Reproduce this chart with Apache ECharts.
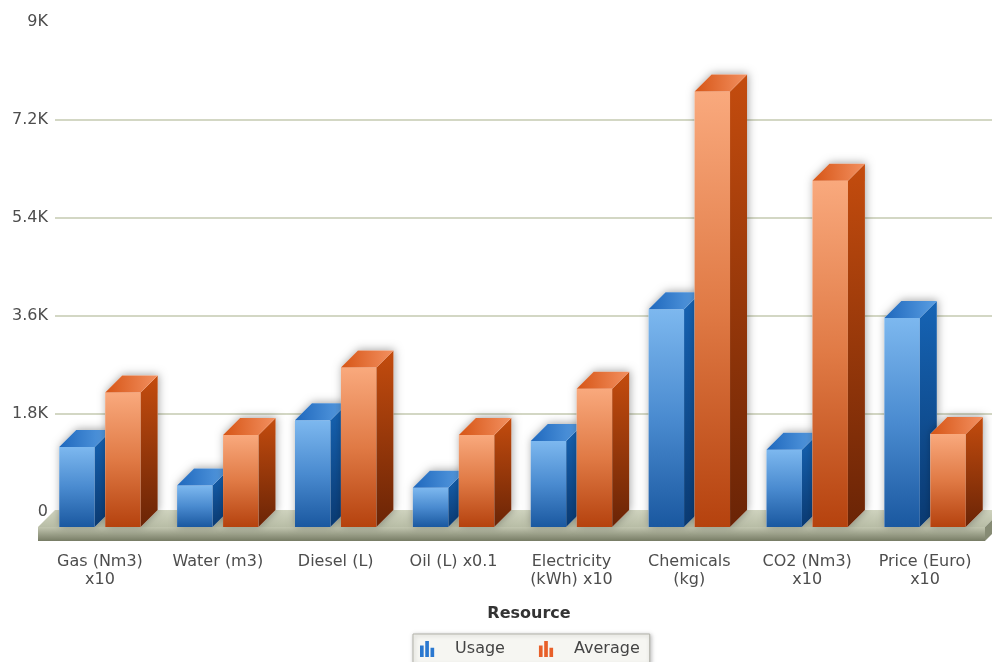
<!DOCTYPE html>
<html>
<head>
<meta charset="utf-8">
<script src="https://cdn.jsdelivr.net/npm/echarts@6/dist/echarts.min.js"></script>
<style>
html,body{margin:0;padding:0;background:#fff;}
#chart{width:992px;height:662px;}
</style>
</head>
<body>
<div id="chart"></div>
<script>
var categories = ['Gas (Nm3)\nx10', 'Water (m3)', 'Diesel (L)', 'Oil (L) x0.1', 'Electricity\n(kWh) x10', 'Chemicals\n(kg)', 'CO2 (Nm3)\nx10', 'Price (Euro)\nx10'];
var usage = [1470, 760, 1960, 720, 1580, 4000, 1420, 3840];
var average = [2470, 1690, 2930, 1690, 2540, 8000, 6360, 1710];
var seriesNames = ['Usage', 'Average'];
var yMin = 0, yMax = 9000, yStep = 1800;

var FONT = '"DejaVu Sans", Verdana, sans-serif';
var DEPTH = 17;

var palettes = [
  { front: ['#7db8ef', '#4a8bd0', '#1a58a0'], side: ['#1664b5', '#0a3a72'], top: ['#1f68bd', '#5a9ee2'], legend: '#2a78d0' },
  { front: ['#f9a97d', '#e07a45', '#b5420e'], side: ['#c44c0e', '#6a2406'], top: ['#d65516', '#f39060'], legend: '#e8602a' }
];

function vGrad(c) {
  var stops = c.map(function (col, i) { return { offset: i / (c.length - 1), color: col }; });
  return new echarts.graphic.LinearGradient(0, 0, 0, 1, stops);
}
function hGrad(c) {
  var stops = c.map(function (col, i) { return { offset: i / (c.length - 1), color: col }; });
  return new echarts.graphic.LinearGradient(0, 0, 1, 0, stops);
}

function barRenderer(sIdx) {
  var pal = palettes[sIdx];
  return function (params, api) {
    var idx = api.value(0), v = api.value(1);
    var base = api.coord([idx, 0]);
    var top = api.coord([idx, v]);
    var band = api.size([1, 0])[0];
    var w = band * 0.301, gap = band * 0.089, d = DEPTH;
    var pairW = 2 * w + gap;
    var x0 = base[0] - pairW / 2 + sIdx * (w + gap);
    var y0 = base[1], y1 = top[1];
    return {
      type: 'group',
      children: [
        {
          type: 'polygon',
          shape: { points: [[x0, y1], [x0 + d, y1 - d], [x0 + w + d, y1 - d], [x0 + w + d, y0 - d], [x0 + w, y0], [x0, y0]] },
          style: { fill: '#ffffff', shadowBlur: 9, shadowColor: 'rgba(0,0,0,0.35)', shadowOffsetX: 1, shadowOffsetY: -1 }
        },
        {
          type: 'rect',
          shape: { x: x0, y: y1, width: w, height: y0 - y1 },
          style: { fill: vGrad(pal.front) }
        },
        {
          type: 'polygon',
          shape: { points: [[x0 + w, y1], [x0 + w + d, y1 - d], [x0 + w + d, y0 - d], [x0 + w, y0]] },
          style: { fill: vGrad(pal.side) }
        },
        {
          type: 'polygon',
          shape: { points: [[x0, y1], [x0 + w, y1], [x0 + w + d, y1 - d], [x0 + d, y1 - d]] },
          style: { fill: hGrad(pal.top) }
        }
      ]
    };
  };
}

function floorRenderer(params, api) {
  var cs = params.coordSys;
  var d = DEPTH;
  var xl = cs.x - 3, xr = cs.x + cs.width + 1;
  var yf = cs.y + cs.height, th = 14;
  return {
    type: 'group',
    children: [
      {
        type: 'polygon',
        shape: { points: [[xl, yf], [xr, yf], [xr + d, yf - d], [xl + d, yf - d]] },
        style: { fill: new echarts.graphic.LinearGradient(0, 0, 0, 1, [{ offset: 0, color: '#d0d4bf' }, { offset: 1, color: '#b8bda6' }]) }
      },
      {
        type: 'rect',
        shape: { x: xl, y: yf, width: xr - xl, height: th },
        style: { fill: new echarts.graphic.LinearGradient(0, 0, 0, 1, [{ offset: 0, color: '#c2c6b0' }, { offset: 1, color: '#777c65' }]) }
      },
      {
        type: 'polygon',
        shape: { points: [[xr, yf], [xr + d, yf - d], [xr + d, yf - d + th], [xr, yf + th]] },
        style: { fill: '#868b74' }
      }
    ]
  };
}

var chart = echarts.init(document.getElementById('chart'), null, { renderer: 'canvas' });
var gridColor = '#c4cab0';

var option = {
  animation: false,
  backgroundColor: '#ffffff',
  grid: [
    { left: 55, top: 21.5, width: 946, height: 490 },
    { left: 41, top: 37, width: 943, height: 490 }
  ],
  xAxis: [
    { type: 'category', gridIndex: 0, data: categories, show: false },
    {
      type: 'category', gridIndex: 1, data: categories,
      axisLine: { show: false }, axisTick: { show: false },
      axisLabel: { interval: 0, margin: 26, color: '#4d4d4d', fontSize: 16, fontFamily: FONT, lineHeight: 18, align: 'center' }
    }
  ],
  yAxis: [
    {
      type: 'value', gridIndex: 0, min: yMin, max: yMax, interval: yStep,
      axisLine: { show: false }, axisTick: { show: false },
      axisLabel: {
        margin: 7, color: '#4d4d4d', fontSize: 16, fontFamily: FONT,
        formatter: function (v) { return v === 0 ? '0' : (v / 1000) + 'K'; }
      },
      splitLine: { show: true, lineStyle: { color: ['transparent', gridColor, gridColor, gridColor, gridColor, 'transparent'], width: 1.5 } }
    },
    { type: 'value', gridIndex: 1, min: yMin, max: yMax, interval: yStep, show: false, splitLine: { show: false } }
  ],
  legend: {
    data: seriesNames,
    left: 413, top: 634,
    padding: [7, 10, 7, 7],
    itemGap: 34,
    itemWidth: 18, itemHeight: 16,
    backgroundColor: '#f6f6f2',
    borderColor: '#b3b3aa', borderWidth: 1,
    shadowBlur: 4, shadowColor: 'rgba(0,0,0,0.25)', shadowOffsetX: 1, shadowOffsetY: 1,
    icon: 'path://M0,4h3.2v10h-3.2z M4.6,0h3.2v14h-3.2z M9.2,6h3.2v8h-3.2z',
    textStyle: { color: '#444', fontSize: 16, fontFamily: FONT, padding: [0, 0, 0, 14] }
  },
  graphic: [
    {
      type: 'text', x: 529, y: 614,
      style: { text: 'Resource', textAlign: 'center', textVerticalAlign: 'middle', fill: '#333', font: 'bold 16px ' + FONT }
    }
  ],
  series: [
    {
      type: 'custom', name: 'floor', xAxisIndex: 1, yAxisIndex: 1, clip: false, silent: true,
      renderItem: floorRenderer, data: [[0, 0]]
    },
    {
      type: 'custom', name: seriesNames[0], xAxisIndex: 1, yAxisIndex: 1, clip: false,
      itemStyle: { color: palettes[0].legend },
      renderItem: barRenderer(0), encode: { x: 0, y: 1 },
      data: usage.map(function (v, i) { return [i, v]; })
    },
    {
      type: 'custom', name: seriesNames[1], xAxisIndex: 1, yAxisIndex: 1, clip: false,
      itemStyle: { color: palettes[1].legend },
      renderItem: barRenderer(1), encode: { x: 0, y: 1 },
      data: average.map(function (v, i) { return [i, v]; })
    }
  ]
};
chart.setOption(option);
</script>
</body>
</html>
